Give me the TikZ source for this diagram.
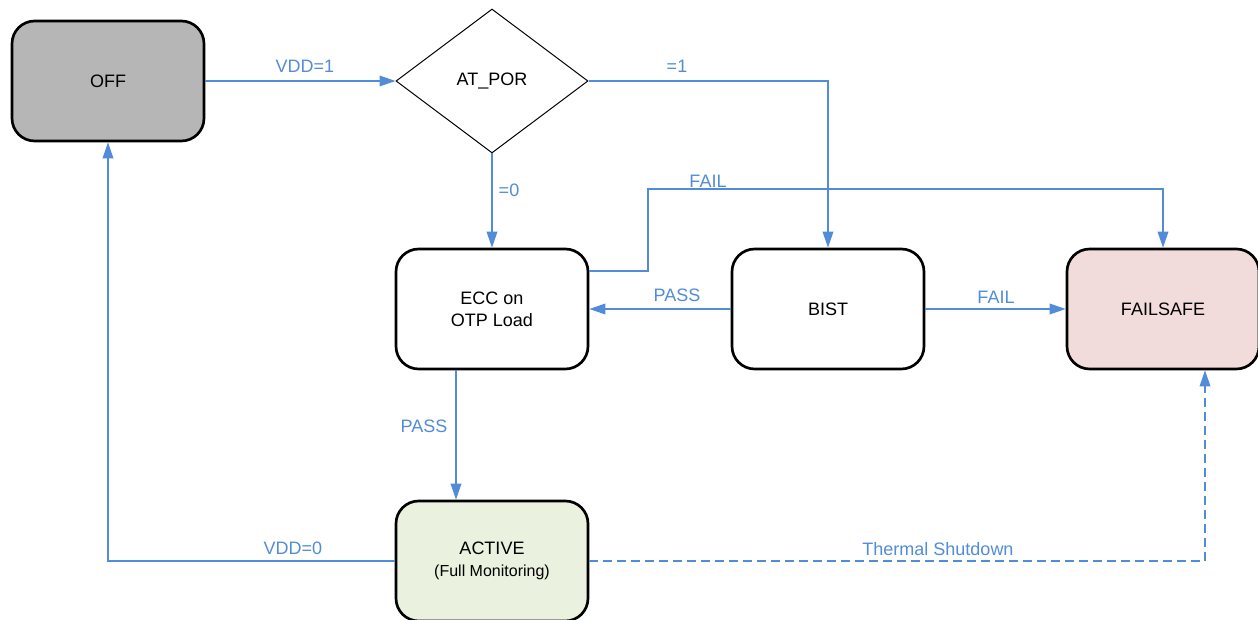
\documentclass[tikz,border=0pt]{standalone}
\usepackage{fontspec}
\setmainfont{Liberation Sans}
\usetikzlibrary{shapes.geometric,arrows.meta}
\definecolor{edgeblue}{RGB}{82,140,216}
\definecolor{offgray}{RGB}{182,182,182}
\definecolor{failpink}{RGB}{242,220,219}
\definecolor{activegreen}{RGB}{234,241,222}
\begin{document}
\begin{tikzpicture}[x=0.75pt,y=-0.75pt,
  state/.style={draw=black, line width=2pt, rounded corners=17pt, minimum width=144pt, minimum height=90pt, inner sep=0pt, align=center, font=\fontsize{13.5}{16.5}\selectfont},
  decision/.style={diamond, draw=black, line width=0.75pt, minimum width=144pt, minimum height=108pt, inner sep=0pt, font=\fontsize{13.5}{16.5}\selectfont},
  conn/.style={draw=edgeblue, line width=1pt, -{Triangle[length=12pt,width=8pt]}},
  lbl/.style={text=edgeblue, font=\fontsize{13.5}{16}\selectfont, inner sep=0pt}
]
\useasboundingbox (0,0) rectangle (1258,620);

\node[state, fill=offgray] (off) at (108,81) {OFF};
\node[decision] (atpor) at (492,81) {AT\_POR};
\node[state] (ecc) at (492,309) {ECC on\\OTP Load};
\node[state] (bist) at (828,309) {BIST};
\node[state, fill=failpink] (failsafe) at (1163,309) {FAILSAFE};
\node[state, fill=activegreen, font=\fontsize{13.5}{17}\selectfont] (active) at (492,561) {ACTIVE\\{\fontsize{12}{17}\selectfont (Full Monitoring)}};

\coordinate (failbend) at (648,189);

\draw[conn] (off.east) -- (atpor.west);
\draw[conn] (atpor.east) -| (bist.north);
\draw[conn] (atpor.south) -- (ecc.north);
\draw[conn] ([yshift=28.5pt]ecc.east) -| (failbend) -| (failsafe.north);
\draw[conn] (bist.west) -- (ecc.east);
\draw[conn] (bist.east) -- (failsafe.west);
\draw[conn] ([xshift=-27pt]ecc.south) -- ([xshift=-27pt]active.north);
\draw[conn] (active.west) -| (off.south);
\draw[conn, dash pattern=on 6.5pt off 4pt] (active.east) -| ([xshift=31.5pt]failsafe.south);

\node[lbl] (lvdd1) at (305,66) {VDD=1};
\node[lbl] (leq1) at (677,66) {=1};
\node[lbl] (leq0) at (509,190) {=0};
\node[lbl] (lfailtop) at (708,181) {FAIL};
\node[lbl] (lpassmid) at (677,295) {PASS};
\node[lbl] (lfailmid) at (996,297) {FAIL};
\node[lbl] (lpasslow) at (424,426) {PASS};
\node[lbl] (lvdd0) at (293,548) {VDD=0};
\node[lbl] (lthermal) at (938,549) {Thermal Shutdown};
\end{tikzpicture}
\end{document}
